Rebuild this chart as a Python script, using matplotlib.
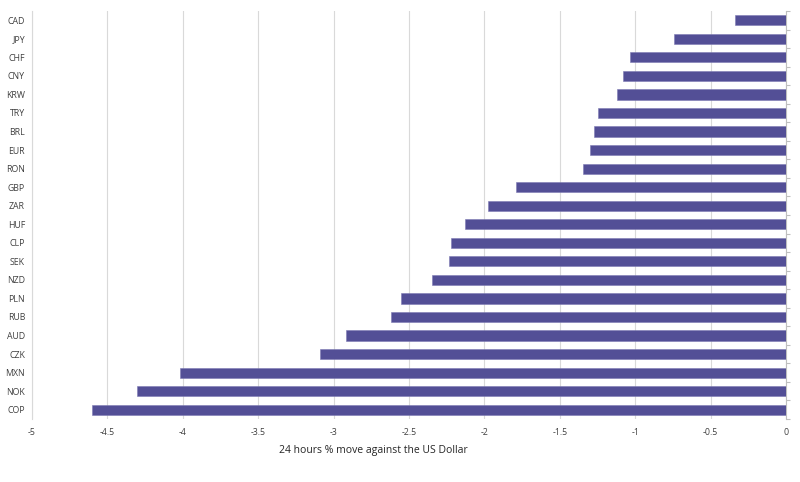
import matplotlib
matplotlib.use("Agg")
import matplotlib.pyplot as plt
import numpy as np
from matplotlib.ticker import FixedLocator

currencies = ["CAD", "JPY", "CHF", "CNY", "KRW", "TRY", "BRL", "EUR", "RON", "GBP", "ZAR",
              "HUF", "CLP", "SEK", "NZD", "PLN", "RUB", "AUD", "CZK", "MXN", "NOK", "COP"]
moves = [-0.338, -0.741, -1.033, -1.084, -1.118, -1.244, -1.276, -1.302, -1.343, -1.792, -1.973,
         -2.130, -2.221, -2.232, -2.345, -2.553, -2.621, -2.916, -3.090, -4.019, -4.307, -4.599]
xticks = [-5, -4.5, -4, -3.5, -3, -2.5, -2, -1.5, -1, -0.5, 0]
xtick_labels = ["-5", "-4.5", "-4", "-3.5", "-3", "-2.5", "-2", "-1.5", "-1", "-0.5", "0"]
xlabel = "24 hours % move against the US Dollar"

plt.rcParams['font.family'] = ['Open Sans', 'DejaVu Sans']

fig = plt.figure(figsize=(8.0, 4.82), dpi=100)
ax = fig.add_axes([32/800, 1 - 419/482, (786 - 32)/800, (419 - 11)/482])

y = np.arange(len(currencies))
ax.barh(y, moves, height=0.55, color="#534f96", edgecolor="#7d7ab3", linewidth=0.4, zorder=3)

ax.set_xlim(-5, 0)
ax.set_ylim(len(currencies) - 0.5, -0.5)
ax.set_yticks(y)
ax.set_yticklabels(currencies)
ax.set_xticks(xticks)
ax.set_xticklabels(xtick_labels)
ax.tick_params(axis='both', which='major', length=0, labelsize=6.3, colors="#404040")
ax.tick_params(axis='y', pad=5)
ax.tick_params(axis='x', pad=6.5)

ax.yaxis.set_minor_locator(FixedLocator(np.arange(-0.5, len(currencies), 1.0)))
ax.tick_params(axis='y', which='minor', left=False, right=True, length=3, width=0.8, color="#bfbfbf")

ax.grid(axis='x', color="#d9d9d9", linewidth=0.8, zorder=0)
ax.grid(axis='y', visible=False)
for side in ['top', 'bottom']:
    ax.spines[side].set_visible(False)
ax.spines['left'].set_color("#d9d9d9")
ax.spines['left'].set_linewidth(0.8)
ax.spines['right'].set_color("#bfbfbf")
ax.spines['right'].set_linewidth(0.8)

fig.text(373/800, 1 - 451/482, xlabel, ha='center', va='center', fontsize=7.5, color="#262626")

fig.savefig("out.png", dpi=100, facecolor="white")
